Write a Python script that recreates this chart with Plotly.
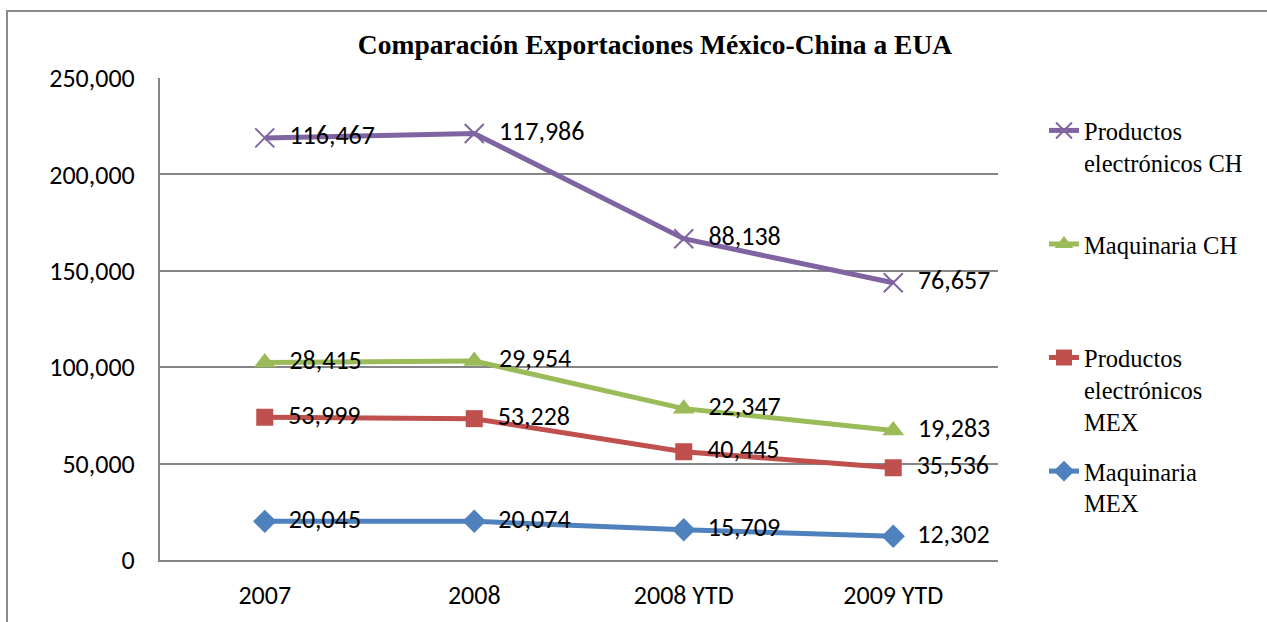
import plotly.graph_objects as go

categories = ["2007", "2008", "2008 YTD", "2009 YTD"]
maq_mex = [20045, 20074, 15709, 12302]
prod_mex = [53999, 53228, 40445, 35536]
maq_ch = [28415, 29954, 22347, 19283]
prod_ch = [116467, 117986, 88138, 76657]

series = [
    ("Maquinaria<br>MEX", maq_mex, "#4F81BD", "diamond", 18, 4),
    ("Productos<br>electrónicos<br>MEX", prod_mex, "#C0504D", "square", 17, 3),
    ("Maquinaria CH<br>&nbsp;<br>&nbsp;", maq_ch, "#9BBB59", "triangle-up", 19, 2),
    ("Productos<br>electrónicos CH<br>&nbsp;", prod_ch, "#8064A2", "x-thin", 19, 1),
]

NUM_FONT = "Carlito, Lato, Calibri, sans-serif"
PAD = "\u00a0\u00a0"

fig = go.Figure()
for i, (name, vals, color, sym, size, rank) in enumerate(series):
    marker = dict(symbol=sym, size=size, color=color)
    if sym == "x-thin":
        marker["line"] = dict(color=color, width=2)
    fig.add_trace(go.Scatter(
        x=categories, y=vals, name=name, stackgroup="one", fill="none",
        legendgroup=f"g{i}", legendrank=rank,
        mode="lines+markers+text",
        line=dict(color=color, width=5),
        marker=marker,
        customdata=vals,
        texttemplate=PAD + "%{customdata:,}",
        textposition="middle right",
        textfont=dict(family=NUM_FONT, size=26, color="black"),
        hoverinfo="skip",
    ))

W, H = 1267, 622
L, R, T, B = 160, 269, 78, 62
pw, ph = W - L - R, H - T - B

def px_x(p):
    return (p - L) / pw

def px_y(p):
    return (H - B - p) / ph

fig.update_layout(
    width=W, height=H,
    margin=dict(l=L, r=R, t=T, b=B, autoexpand=False),
    paper_bgcolor="white", plot_bgcolor="white",
    title=dict(
        text="<b>Comparación Exportaciones México-China a EUA</b>",
        font=dict(family="Liberation Serif, Times New Roman, serif", size=27.5, color="black"),
        x=655 / W, xanchor="center", y=1 - 44 / H, yanchor="middle",
    ),
    legend=dict(
        x=px_x(1044), y=px_y(108), xanchor="left", yanchor="top",
        traceorder="grouped", tracegroupgap=15, valign="top",
        font=dict(family="Liberation Serif, Times New Roman, serif", size=24.5, color="black"),
        bgcolor="rgba(0,0,0,0)",
    ),
    showlegend=True,
    shapes=[dict(
        type="rect", xref="paper", yref="paper",
        x0=px_x(7), x1=px_x(1400), y0=px_y(700), y1=px_y(11),
        line=dict(color="#8c8c8c", width=2), fillcolor="rgba(0,0,0,0)", layer="below",
    )],
)

fig.update_xaxes(
    type="category", showgrid=False, showline=True, linecolor="#868686", linewidth=2,
    ticks="", tickfont=dict(family=NUM_FONT, size=26, color="black"),
    ticklabelstandoff=11, range=[-0.5, 3.5], automargin=False,
)
fig.update_yaxes(
    range=[0, 250000], dtick=50000, tickformat=",",
    showgrid=True, gridcolor="#868686", gridwidth=1.5,
    showline=True, linecolor="#868686", linewidth=2, zeroline=False,
    ticks="", tickfont=dict(family=NUM_FONT, size=26, color="black"),
    ticklabelstandoff=18, automargin=False,
)

fig.write_html("out.html")
